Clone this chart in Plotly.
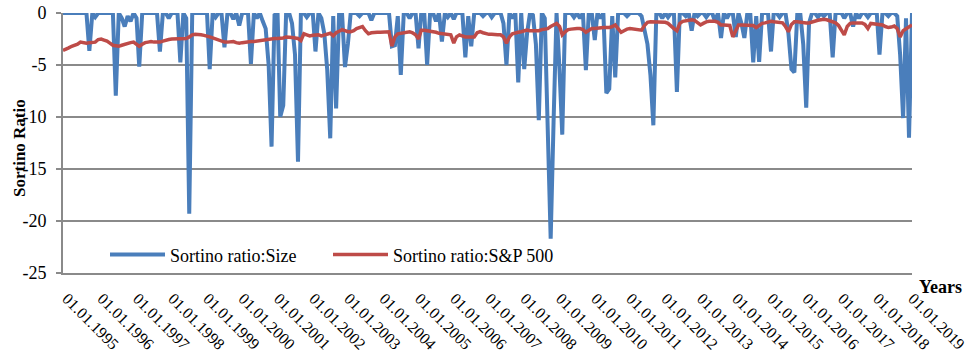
import pandas as pd
import plotly.graph_objects as go

# monthly observations, Jan 1995 .. Feb 2019
dates = pd.date_range("1995-01-01", periods=290, freq="MS")

size_ratio = [
    0, 0, 0, 0, 0, 0, 0, 0, 0, -3.65, 0, -0.4,                      # 1995
    0, 0, 0, 0, 0, 0, -7.95, 0, -0.5, -1.3, -0.3, -0.8,             # 1996
    0, -0.5, -5.15, 0, 0, 0, 0, 0, 0, -3.7, 0, 0,                   # 1997
    -0.5, 0, 0, 0, -4.75, 0, -0.5, -19.3, 0, 0, 0, 0,               # 1998
    0, 0, -5.4, 0, -0.4, 0, 0, -3.3, 0, 0, -0.6, 0,                 # 1999
    -1.2, 0, 0, 0, -4.9, 0, -0.5, 0, -0.8, -1.5, -5.0, -12.85,      # 2000
    -0.2, 0, -9.97, -8.9, 0, 0, -1.0, -4.0, -14.3, 0, 0, -0.4,      # 2001
    0, 0, -3.7, 0, -0.5, -2.0, -5.5, -12.05, -0.3, -9.17, 0, 0,     # 2002
    -5.2, -2.9, 0, 0, 0, -0.3, 0, 0, 0, -0.7, 0, 0,                 # 2003
    0, 0, 0, 0, -3.2, -3.1, -0.3, -5.96, 0, 0, -0.5, 0,             # 2004
    0, -3.4, 0, 0, -5.0, 0, 0, -0.8, 0, -2.75, 0, -0.4,             # 2005
    0, -0.6, 0, 0, 0, -4.26, -0.3, -3.2, 0, 0, 0, -0.3,             # 2006
    0, 0, -0.4, 0, 0, 0, -1.0, -5.0, 0, -0.5, 0, -6.67,             # 2007
    0, -5.4, -2.0, 0, -0.2, -3.0, -10.3, 0, -0.5, -10.5, -21.7, -10.5,  # 2008
    0, -5.5, -11.7, 0, 0, 0, -0.4, 0, -0.5, 0, -5.5, 0,             # 2009
    0, -2.6, 0, -0.5, 0, -7.7, -7.3, -0.3, -6.2, 0, 0, 0,           # 2010
    -0.3, 0, 0, 0, 0, -0.3, -1.5, -3.0, -6.0, -10.8, 0, 0,          # 2011
    -0.5, 0, -0.4, 0, 0, -7.6, 0, 0, -0.3, 0, -1.7, 0,              # 2012
    -0.3, 0, 0, -0.4, 0, 0, -0.8, 0, -2.4, 0, -0.5, 0,              # 2013
    0, -2.3, 0, -1.0, -2.4, 0, 0, -4.75, -0.3, -4.7, 0, 0,          # 2014
    0, -3.7, 0, 0, -0.4, 0, 0, -2.0, -5.4, -5.7, 0, 0,              # 2015
    -3.0, -9.1, -1.0, 0, 0, -0.4, 0, -0.3, 0, 0, -4.26, 0,          # 2016
    0, 0, -0.5, 0, 0, -1.3, 0, -0.5, 0, 0, -0.4, 0,                 # 2017
    0, 0, -4.0, 0, 0, -0.3, 0, 0, -0.3, -4.0, -10.1, -0.5,          # 2018
    -12.0, 0,                                                       # 2019
]

sp500_ratio = [
    -3.6, -3.5, -3.35, -3.2, -3.1, -3.0, -2.8, -2.85, -2.9, -2.85, -2.8, -2.8,
    -2.55, -2.5, -2.6, -2.7, -2.9, -3.1, -3.15, -3.2, -3.1, -3.0, -2.9, -2.85,
    -2.8, -3.0, -3.2, -3.0, -2.85, -2.8, -2.75, -2.8, -2.8, -2.8, -2.7, -2.6,
    -2.55, -2.5, -2.5, -2.5, -2.5, -2.45, -2.45, -2.3, -2.1, -2.05, -2.05, -2.1,
    -2.15, -2.2, -2.3, -2.4, -2.5, -2.6, -2.7, -2.8, -2.8, -2.75, -2.75, -2.85,
    -2.9, -2.85, -2.8, -2.8, -2.75, -2.75, -2.7, -2.65, -2.65, -2.6, -2.55, -2.45,
    -2.45, -2.45, -2.45, -2.4, -2.3, -2.3, -2.35, -2.4, -2.45, -2.65, -2.0, -2.1,
    -2.2, -2.15, -2.1, -2.1, -2.2, -2.1, -2.0, -1.95, -2.2, -1.9, -1.75, -1.6,
    -1.7, -1.8, -1.8, -1.7, -1.5, -1.4, -1.3, -1.7, -2.0, -1.9, -1.85, -1.85,
    -1.85, -1.85, -1.8, -1.8, -3.2, -2.3, -2.0, -1.95, -1.9, -1.85, -1.8, -1.9,
    -2.1, -2.5, -1.65, -1.65, -1.7, -1.7, -1.75, -1.85, -1.95, -2.0, -2.05, -2.1,
    -2.1, -2.9, -2.3, -2.1, -2.2, -2.3, -2.3, -2.3, -2.3, -1.9, -1.8, -1.9,
    -2.0, -2.05, -2.05, -2.1, -2.1, -2.1, -2.3, -2.9, -2.3, -2.0, -1.9, -1.85,
    -1.8, -1.7, -1.65, -1.7, -1.7, -1.7, -1.7, -1.6, -1.55, -1.5, -1.3, -1.15,
    -1.0, -1.3, -2.1, -1.8, -1.6, -1.55, -1.5, -1.5, -1.5, -1.6, -1.85, -1.7,
    -1.5, -1.5, -1.45, -1.45, -1.4, -1.4, -1.4, -1.3, -1.15, -1.5, -1.85, -1.7,
    -1.55, -1.5, -1.55, -1.6, -1.65, -1.65, -1.2, -0.9, -0.85, -0.85, -0.85, -0.85,
    -0.85, -0.9, -1.0, -1.3, -1.5, -1.7, -1.0, -0.8, -0.75, -0.7, -0.65, -0.7,
    -0.9, -1.15, -1.0, -0.85, -0.8, -0.8, -0.8, -0.9, -1.15, -1.15, -1.15, -1.2,
    -2.3, -1.6, -1.15, -1.15, -1.15, -1.15, -1.15, -1.2, -1.4, -1.2, -1.0, -0.95,
    -0.85, -0.8, -0.85, -0.9, -0.95, -0.95, -1.3, -1.8, -1.1, -0.85, -0.85, -0.9,
    -0.9, -0.95, -0.95, -0.85, -0.75, -0.7, -0.65, -0.6, -0.65, -0.75, -0.85, -0.95,
    -1.2, -1.6, -2.1, -1.3, -1.0, -0.95, -0.95, -0.95, -0.95, -1.1, -1.5, -1.0,
    -1.05, -1.1, -1.15, -1.15, -1.3, -1.4, -1.35, -1.25, -1.5, -2.3, -1.7, -1.5,
    -1.3, -1.15,
]

y_ticks = [0, -5, -10, -15, -20, -25]
y_tick_labels = ["0", "-5", "-10", "-15", "-20", "-25"]

SERIF = "Liberation Serif, Times New Roman, serif"
GRID = "#8a8a8a"

# plot area at x 63..912, y 13..273
PL, PT, PW, PH = 63, 13, 849, 260

fig = go.Figure()
fig.add_trace(go.Scatter(x=dates, y=size_ratio, mode="lines",
                         name="Sortino ratio:Size", legend="legend",
                         line=dict(color="#4A7EBB", width=4)))
fig.add_trace(go.Scatter(x=dates, y=sp500_ratio, mode="lines",
                         name="Sortino ratio:S&P 500", legend="legend2",
                         line=dict(color="#BE4B48", width=3.5)))

legend_common = dict(orientation="h", xanchor="left", yanchor="middle",
                     bgcolor="rgba(0,0,0,0)",
                     font=dict(family=SERIF, size=18, color="black"),
                     itemwidth=55)

fig.update_layout(
    width=976, height=361,
    margin=dict(l=PL, r=976 - PL - PW, t=PT, b=361 - PT - PH, autoexpand=False),
    paper_bgcolor="white", plot_bgcolor="white",
    font=dict(family=SERIF, color="black"),
    showlegend=True,
    legend=dict(x=(105 - 63) / PW, y=0.07, **legend_common),
    legend2=dict(x=(328 - 63) / PW, y=0.07, **legend_common),
    xaxis=dict(type="date", range=[dates[0], dates[-1]], automargin=False,
               tick0="1995-01-01", dtick="M12", tickformat="%d.%m.%Y",
               tickangle=45, tickfont=dict(family=SERIF, size=16, color="black"),
               ticklabelstandoff=8, ticklabelshift=4, ticklabeloverflow="allow",
               showgrid=False, zeroline=False, ticks="",
               showline=True, linecolor=GRID, linewidth=2),
    xaxis2=dict(type="date", overlaying="x", matches="x", side="top", automargin=False,
                tick0="1995-01-01", dtick="M12", ticks="inside", ticklen=4,
                tickwidth=1.5, tickcolor=GRID, showticklabels=False,
                showgrid=False, zeroline=False, showline=False),
    yaxis=dict(range=[-25, 0], tickvals=y_ticks, ticktext=y_tick_labels, automargin=False,
               tickfont=dict(family=SERIF, size=18, color="black"),
               ticklabeloverflow="allow",
               showgrid=True, gridcolor=GRID, gridwidth=2,
               zeroline=False, showline=True, linecolor=GRID, linewidth=2,
               ticks="outside", ticklen=5, tickwidth=2, tickcolor=GRID,
               ticklabelstandoff=6),
)

fig.add_annotation(text="<b>Sortino Ratio</b>", textangle=-90,
                   xref="paper", yref="paper", x=(20 - 63) / PW, y=(273 - 148) / PH,
                   xanchor="center", yanchor="middle", showarrow=False,
                   font=dict(family=SERIF, size=17, color="black"))
fig.add_annotation(text="<b>Years</b>",
                   xref="paper", yref="paper", x=(940 - 63) / PW, y=(273 - 287) / PH,
                   xanchor="center", yanchor="middle", showarrow=False,
                   font=dict(family=SERIF, size=18, color="black"))

# remove the browser's default 8px body margin so the figure sits at the window origin
fig.write_html("out.html",
               config={"displayModeBar": False},
               post_script="document.body.style.margin='0px';")
